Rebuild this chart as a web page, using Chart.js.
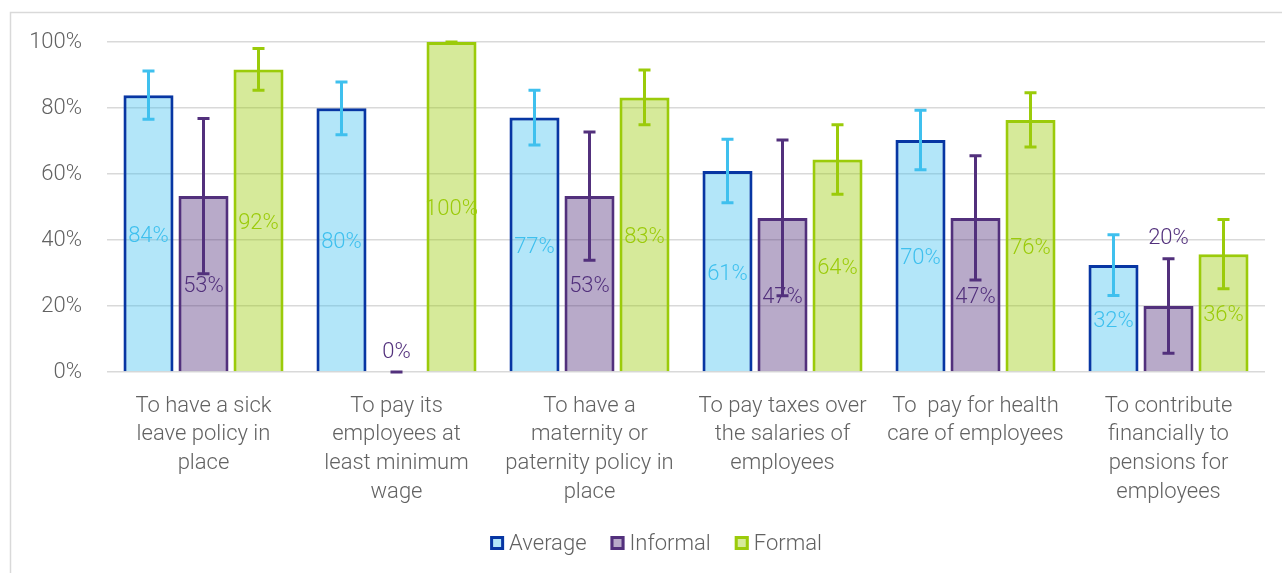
<!DOCTYPE html>
<html><head><meta charset="utf-8">
<script src="https://cdn.jsdelivr.net/npm/chart.js@4.4.1/dist/chart.umd.min.js"></script>
<style>html,body{margin:0;padding:0;background:#fff;overflow:hidden}#wrap{position:relative;width:1282px;height:573px}</style>
</head><body><div id="wrap"><canvas id="c" width="1282" height="573"></canvas></div>
<script>
const categories = [
  ["To have a sick","leave policy in","place"],
  ["To pay its","employees at","least minimum","wage"],
  ["To have a","maternity or","paternity policy in","place"],
  ["To pay taxes over","the salaries of","employees"],
  ["To  pay for health","care of employees"],
  ["To contribute","financially to","pensions for","employees"]
];
const seriesNames = ["Average","Informal","Formal"];
const averageValues  = [83.9, 79.9, 77.1, 60.9, 70.3, 32.4];
const informalValues = [53.3, 0, 53.3, 46.7, 46.7, 20];
const formalValues   = [91.7, 100, 83.2, 64.4, 76.4, 35.7];
const averageErrors  = [7.3, 8.0, 8.3, 9.6, 9.0, 9.2];
const informalErrors = [23.5, 0, 19.4, 23.6, 18.8, 14.3];
const formalErrors   = [6.3, 0, 8.3, 10.5, 8.2, 10.5];
const yTickValues = [0, 20, 40, 60, 80, 100];

const FONT = "Roboto, 'Open Sans', sans-serif";
const TEXT_GRAY = '#626262';

const styles = [
  {fill:'rgba(65,192,239,0.4)', border:'#0736a3', accent:'#3fc0ee'},
  {fill:'rgba(82,48,124,0.41)', border:'#52307c', accent:'#52307c'},
  {fill:'rgba(155,203,10,0.41)', border:'#9bcb0a', accent:'#9bcb0a'}
];
const valueSets = [averageValues, informalValues, formalValues];
const errorSets = [averageErrors, informalErrors, formalErrors];

const datasets = seriesNames.map((name, i) => ({
  label: name,
  data: valueSets[i],
  errors: errorSets[i],
  accent: styles[i].accent,
  backgroundColor: styles[i].fill,
  borderColor: styles[i].border,
  borderWidth: 3,
  categoryPercentage: 0.855,
  barPercentage: 0.91
}));

const framePlugin = {
  id: 'frame',
  beforeDraw(chart) {
    const ctx = chart.ctx;
    ctx.save();
    ctx.strokeStyle = '#d9d9d9';
    ctx.lineWidth = 1.5;
    ctx.beginPath();
    ctx.moveTo(10.5, 573);
    ctx.lineTo(10.5, 12.5);
    ctx.lineTo(1282, 12.5);
    ctx.stroke();
    ctx.restore();
  }
};

const errorAndLabelPlugin = {
  id: 'errlab',
  afterDatasetsDraw(chart) {
    const ctx = chart.ctx;
    const y = chart.scales.y;
    ctx.save();
    chart.data.datasets.forEach((ds, i) => {
      const meta = chart.getDatasetMeta(i);
      meta.data.forEach((bar, j) => {
        const v = ds.data[j], e = ds.errors[j];
        const yt = y.getPixelForValue(v + e), yb = y.getPixelForValue(v - e);
        ctx.strokeStyle = ds.accent;
        ctx.lineWidth = 3;
        ctx.lineCap = 'butt';
        ctx.beginPath();
        ctx.moveTo(bar.x, yt); ctx.lineTo(bar.x, yb);
        ctx.moveTo(bar.x - 6, yt); ctx.lineTo(bar.x + 6, yt);
        ctx.moveTo(bar.x - 6, yb); ctx.lineTo(bar.x + 6, yb);
        ctx.stroke();
      });
    });
    chart.data.datasets.forEach((ds, i) => {
      const meta = chart.getDatasetMeta(i);
      meta.data.forEach((bar, j) => {
        const v = ds.data[j], e = ds.errors[j];
        let ly;
        if (v < 25) ly = y.getPixelForValue(v + e) - 20;
        else ly = (bar.y + bar.base) / 2 + 3;
        ctx.fillStyle = ds.accent;
        ctx.font = "300 22px " + FONT;
        ctx.textAlign = 'center';
        ctx.textBaseline = 'middle';
        ctx.fillText(Math.round(v) + '%', bar.x, ly);
      });
    });
    ctx.restore();
  }
};

const legendPlugin = {
  id: 'customLegend',
  afterDraw(chart) {
    const ctx = chart.ctx;
    ctx.save();
    ctx.font = "300 22px " + FONT;
    const box = 14, gapText = 5, gapItem = 24;
    const items = chart.data.datasets.map(ds => ({ds, w: ctx.measureText(ds.label).width}));
    const total = items.reduce((s, it) => s + box + gapText + it.w, 0) + gapItem * (items.length - 1);
    let x = 656 - total / 2;
    const cy = 543;
    items.forEach(it => {
      ctx.fillStyle = '#fff';
      ctx.fillRect(x, cy - box / 2, box, box);
      ctx.fillStyle = it.ds.backgroundColor;
      ctx.fillRect(x, cy - box / 2, box, box);
      ctx.strokeStyle = it.ds.borderColor;
      ctx.lineWidth = 3;
      ctx.strokeRect(x + 1.5, cy - box / 2 + 1.5, box - 3, box - 3);
      ctx.fillStyle = TEXT_GRAY;
      ctx.textAlign = 'left';
      ctx.textBaseline = 'middle';
      ctx.fillText(it.ds.label, x + box + gapText, cy + 1);
      x += box + gapText + it.w + gapItem;
    });
    ctx.restore();
  }
};

new Chart(document.getElementById('c'), {
  type: 'bar',
  data: { labels: categories, datasets },
  options: {
    responsive: false,
    animation: false,
    devicePixelRatio: 1,
    layout: { padding: { left: 0, right: 17, top: 42, bottom: 0 } },
    plugins: { legend: { display: false }, tooltip: { enabled: false } },
    scales: {
      x: {
        grid: { display: false },
        border: { display: false },
        ticks: {
          color: TEXT_GRAY,
          font: { family: FONT, size: 22, weight: '300', lineHeight: 1.3 },
          padding: 12,
          maxRotation: 0,
          autoSkip: false
        },
        afterFit(scale) { scale.height = 201; }
      },
      y: {
        min: 0, max: 100,
        afterBuildTicks(scale) { scale.ticks = yTickValues.map(v => ({value: v})); },
        grid: { color: '#d9d9d9', lineWidth: 1.5, drawTicks: false },
        border: { display: false },
        ticks: {
          color: TEXT_GRAY,
          font: { family: FONT, size: 22, weight: '300' },
          padding: 25,
          callback: v => v + '%'
        },
        afterFit(scale) { scale.width = 107; }
      }
    }
  },
  plugins: [framePlugin, errorAndLabelPlugin, legendPlugin]
});
</script>
</body></html>
